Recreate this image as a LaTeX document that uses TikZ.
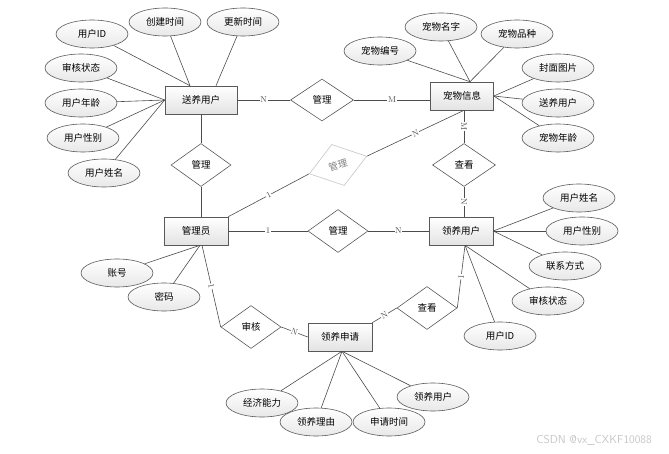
\documentclass[tikz,border=0pt]{standalone}
\usepackage{fontspec}
\newfontfamily\cjk{Noto Sans CJK SC}
\usetikzlibrary{shapes.geometric}

\begin{document}
\begin{tikzpicture}[x=1pt,y=-1pt,line width=0.6pt,
  entity/.style={draw=black!65,top color=white,bottom color=gray!22,minimum width=64,minimum height=28,inner sep=0,font=\cjk\fontsize{9.5}{10}\selectfont},
  attr/.style={ellipse,draw=black!65,top color=white,bottom color=gray!18,minimum width=72,minimum height=28,inner sep=0,font=\cjk\fontsize{9.5}{10}\selectfont},
  rel/.style={diamond,draw=black!65,fill=white,minimum width=60,minimum height=43,inner sep=0,font=\cjk\fontsize{9.5}{10}\selectfont},
  lab/.style={fill=white,inner sep=0.6pt,sloped,font=\fontsize{8.5}{9}\selectfont}]
\useasboundingbox (0,0) rectangle (669,454);

\node[entity,minimum width=72] (syyh) at (201,100) {送养用户};
\node[entity,minimum width=63] (cwxx) at (462,96) {宠物信息};
\node[entity] (gly) at (196,231) {管理员};
\node[entity] (lyyh) at (461,231) {领养用户};
\node[entity] (lysq) at (340,337) {领养申请};

\node[rel,minimum width=63,minimum height=42] (gl1) at (322,100) {管理};
\node[rel] (gl2) at (201,165) {管理};
\node[rel,draw=gray!45,text=gray,rotate=17] (gl3) at (338,165) {管理};
\node[rel] (gl4) at (338,231) {管理};
\node[rel,minimum width=63] (ck1) at (464,165) {查看};
\node[rel] (sh) at (251,327) {审核};
\node[rel] (ck2) at (427,308) {查看};

\foreach \n/\x/\y/\t in {s1/92/34/用户ID, s2/165/22/创建时间, s3/243/22/更新时间,
  s4/81/68/审核状态, s5/81/103/用户年龄, s6/83/138/用户性别, s7/104/173/用户姓名,
  c1/380/51/宠物编号, c2/441/27/宠物名字, c3/517/34/宠物品种,
  c4/558/68/封面图片, c5/558/103/送养用户, c6/558/138/宠物年龄,
  l1/579/198/用户姓名, l2/582/231/用户性别, l3/565/266/联系方式,
  l4/548/301/审核状态, l5/500/336/用户ID, g1/117/273/账号, g2/164/297/密码,
  q1/262/403/经济能力, q2/316/422/领养理由, q3/389/422/申请时间, q4/433/397/领养用户}
  \node[attr] (\n) at (\x,\y) {\t};

\foreach \n in {s1,s2}
  \draw[black!70] (\n) -- ([xshift=-11]syyh.north);
\draw[black!70] (s3) -- ([xshift=15]syyh.north);
\foreach \n in {s4,s5,s6,s7}
  \draw[black!70] (\n) -- (syyh.west);
\foreach \n in {c1,c2,c3}
  \draw[black!70] (\n) -- ([xshift=8]cwxx.north);
\foreach \n in {c4,c5,c6}
  \draw[black!70] (\n) -- (cwxx.east);
\foreach \n in {l1,l2,l3}
  \draw[black!70] (\n) -- (lyyh.east);
\foreach \n in {l4,l5}
  \draw[black!70] (\n) -- ([xshift=4]lyyh.south);
\foreach \n in {g1,g2}
  \draw[black!70] (\n) -- ([xshift=4]gly.south);
\foreach \n in {q1,q2,q3,q4}
  \draw[black!70] (\n) -- ([xshift=2]lysq.south);

\draw[black!70] (syyh.east) -- node[lab]{N} (gl1.west);
\draw[black!70] (gl1.east) -- node[lab]{M} (gl1.east -| cwxx.west);
\draw[black!70] (syyh.south) -- (gl2.north);
\draw[black!70] (gl2.south) -- (gl2.south |- gly.north);
\draw[black!70] (gly.north east) -- node[lab]{1} (gl3.west);
\draw[black!70] (gl3.east) -- node[lab]{N} ([xshift=2]cwxx.south);
\draw[black!70] (cwxx.south -| ck1.north) -- node[lab]{M} (ck1.north);
\draw[black!70] (ck1.south) -- node[lab]{N} (ck1.south |- lyyh.north);
\draw[black!70] (gly.east) -- node[lab]{1} (gl4.west);
\draw[black!70] (gl4.east) -- node[lab]{N} (lyyh.west);
\draw[black!70] ([xshift=6]gly.south) -- node[lab]{1} (sh.west);
\draw[black!70] (sh.east) -- node[lab]{N} (lysq.west);
\draw[black!70] (lysq.north east) -- node[lab]{N} (ck2.west);
\draw[black!70] (ck2.east) -- node[lab]{1} ([xshift=4]lyyh.south);

\node[text=gray!45,font=\sffamily\fontsize{11.5}{12}\selectfont] (wm) at (594,440) {CSDN @vx\_CXKF10088};
\end{tikzpicture}
\end{document}
